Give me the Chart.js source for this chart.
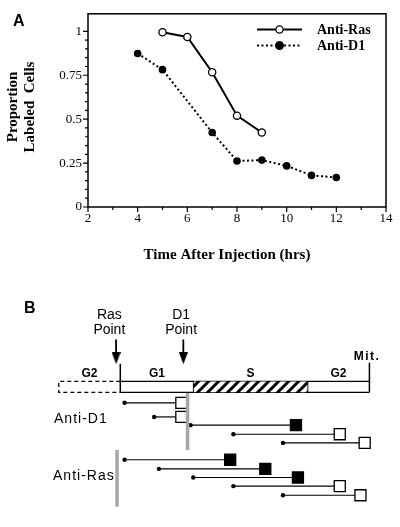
<!DOCTYPE html>
<html>
<head>
<meta charset="utf-8">
<script src="https://cdn.jsdelivr.net/npm/chart.js@4.4.0/dist/chart.umd.min.js"></script>
<style>
  body { margin: 0; background: #fff; }
  #wrap { position: relative; width: 400px; height: 527px; }
  #wrap canvas { position: absolute; left: 0; }
  #chartA { top: 0; }
  #chartB { top: 270px; }
</style>
</head>
<body>
<div id="wrap">
  <canvas id="chartA" width="400" height="270"></canvas>
  <canvas id="chartB" width="400" height="257"></canvas>
</div>
<script>
/* ------------------------------
 Panel A: proportion of labeled cells
---------------------------------*/
var rasHours = [5, 6, 7, 8, 9];
var rasProp = [0.995, 0.968, 0.767, 0.52, 0.424];
var d1Hours = [4, 5, 7, 8, 9, 10, 11, 12];
var d1Prop = [0.874, 0.782, 0.424, 0.262, 0.267, 0.234, 0.18, 0.168];
var seriesNames = ["Anti-Ras", "Anti-D1"];

/* ------------------------------
 Panel B: schematic (cycle units, Ras point = 0, mitosis = 10)
---------------------------------*/
var phaseNames = ["G2", "G1", "S", "G2"];
var phaseStart = [-2.47, 0, 2.94, 7.52];
var phaseEnd = [0, 2.94, 7.52, 10];
var pointNames = ["Ras", "D1"];
var pointPos = [-0.17, 2.53];
var d1Start = [0.17, 1.36, 2.82, 4.54, 6.53];
var d1End = [2.45, 2.45, 7.05, 8.81, 9.81];
var d1Row = [1.75, 3.3, 4.2, 5.2, 6.15];
var d1Filled = [false, false, true, false, false];
var d1Block = 2.70;
var rasStart = [0.17, 1.55, 2.93, 4.54, 6.53];
var rasEnd = [4.41, 5.82, 7.13, 8.81, 9.64];
var rasRow = [8, 9, 9.95, 10.9, 11.9];
var rasFilled = [true, true, true, false, false];
var rasBlock = -0.13;

var serif = "'Liberation Serif', 'Times New Roman', serif";
var sans = "'Liberation Sans', Arial, sans-serif";

function pts(xs, ys) {
  return xs.map(function (x, i) { return { x: x, y: ys[i] }; });
}

/*------------------------------------
* Panel A
------------------------------------ */
var panelA = {
  id: "panelA",
  afterDraw: function (chart) {
    var ctx = chart.ctx, a = chart.chartArea;
    var sx = chart.scales.x, sy = chart.scales.y;
    ctx.save();
    ctx.strokeStyle = "#000";
    ctx.lineWidth = 1.5;
    ctx.strokeRect(a.left, a.top, a.right - a.left, a.bottom - a.top);

    // major + minor tick marks
    ctx.lineWidth = 1.2;
    ctx.beginPath();
    for (var h = 2; h <= 14; h++) {
      var px = sx.getPixelForValue(h);
      ctx.moveTo(px, a.bottom);
      ctx.lineTo(px, a.bottom + (h % 2 ? 3 : 5));
    }
    for (var k = 0; k <= 20; k++) {
      var py = sy.getPixelForValue(k * 0.05);
      ctx.moveTo(a.left, py);
      ctx.lineTo(a.left - (k % 5 ? 3 : 5), py);
    }
    ctx.stroke();

    // legend inside plot
    var ds = chart.data.datasets;
    ds.forEach(function (d, i) {
      var y = 29.5 + i * 16;
      ctx.lineWidth = d.borderWidth;
      ctx.setLineDash(d.borderDash || []);
      ctx.beginPath();
      ctx.moveTo(257, y);
      ctx.lineTo(302, y);
      ctx.stroke();
      ctx.setLineDash([]);
      ctx.beginPath();
      ctx.arc(279.5, y, d.pointRadius, 0, Math.PI * 2);
      ctx.fillStyle = d.pointBackgroundColor;
      ctx.fill();
      ctx.lineWidth = 1.3;
      ctx.stroke();
      ctx.fillStyle = "#000";
      ctx.font = "bold 14px " + serif;
      ctx.textAlign = "left";
      ctx.textBaseline = "middle";
      ctx.fillText(d.label, 317, y + 1);
    });

    // axis titles
    ctx.fillStyle = "#000";
    ctx.font = "bold 15px " + serif;
    ctx.textAlign = "center";
    ctx.textBaseline = "middle";
    ctx.fillText("Time After Injection (hrs)", 227, 255);
    ctx.save();
    ctx.translate(13, 107);
    ctx.rotate(-Math.PI / 2);
    ctx.fillText("Proportion", 0, 0);
    ctx.fillText("Labeled  Cells", 0, 17);
    ctx.restore();

    // panel letter
    ctx.font = "bold 16px " + sans;
    ctx.textAlign = "left";
    ctx.fillText("A", 13, 22);
    ctx.restore();
  }
};

new Chart(document.getElementById("chartA"), {
  type: "scatter",
  data: {
    datasets: [
      {
        label: seriesNames[0],
        data: pts(rasHours, rasProp),
        showLine: true,
        borderColor: "#000",
        borderWidth: 2,
        pointRadius: 3.6,
        pointBorderWidth: 1.3,
        pointBackgroundColor: "#fff",
        pointBorderColor: "#000",
      },
      {
        label: seriesNames[1],
        data: pts(d1Hours, d1Prop),
        showLine: true,
        borderColor: "#000",
        borderWidth: 2,
        borderDash: [2, 2.5],
        pointRadius: 3.8,
        pointBorderWidth: 0,
        pointBackgroundColor: "#000",
        pointBorderColor: "#000",
      },
    ],
  },
  options: {
    responsive: false,
    animation: false,
    events: [],
    layout: { padding: { left: 0, top: 12, right: 14, bottom: 0 } },
    plugins: { legend: { display: false }, tooltip: { enabled: false } },
    scales: {
      x: {
        type: "linear",
        min: 2,
        max: 14,
        afterFit: function (s) { s.height = 63; },
        grid: { display: false, drawTicks: false },
        border: { display: false },
        ticks: { stepSize: 2, padding: 4, color: "#000", font: { family: serif, size: 13 } },
      },
      y: {
        min: 0,
        max: 1.1,
        afterFit: function (s) { s.width = 88; },
        grid: { display: false, drawTicks: false },
        border: { display: false },
        ticks: {
          stepSize: 0.25,
          includeBounds: false,
          padding: 6,
          color: "#000",
          font: { family: serif, size: 13 },
          callback: function (v) { return String(v); },
        },
      },
    },
  },
  plugins: [panelA],
});

/*------------------------------------
* Panel B
------------------------------------ */
var hatch = (function () {
  var c = document.createElement("canvas");
  c.width = 10; c.height = 10;
  var g = c.getContext("2d");
  g.fillStyle = "#fff";
  g.fillRect(0, 0, 10, 10);
  g.strokeStyle = "#000";
  g.lineWidth = 3;
  g.beginPath();
  g.moveTo(-2, 12); g.lineTo(12, -2);
  g.moveTo(-7, 7); g.lineTo(7, -7);
  g.moveTo(3, 17); g.lineTo(17, 3);
  g.stroke();
  return g.createPattern(c, "repeat");
})();

var arrowHead = (function () {
  var c = document.createElement("canvas");
  c.width = 9; c.height = 12;
  var g = c.getContext("2d");
  g.fillStyle = "#000";
  g.beginPath();
  g.moveTo(0, 0); g.lineTo(9, 0); g.lineTo(4.5, 12);
  g.closePath();
  g.fill();
  return c;
})();

function seg(x1, y1, x2, y2, opt) {
  return Object.assign({
    data: [{ x: x1, y: y1 }, { x: x2, y: y2 }],
    borderColor: "#000",
    borderWidth: 1.3,
    pointRadius: 0,
    fill: false,
  }, opt || {});
}

var boxTop = -0.6, boxBot = 0.6;
var dsB = [];

// dashed previous G2
dsB.push({
  data: [{ x: phaseEnd[0], y: boxTop }, { x: phaseStart[0], y: boxTop },
         { x: phaseStart[0], y: boxBot }, { x: phaseEnd[0], y: boxBot }],
  borderColor: "#000", borderWidth: 1.3, borderDash: [4, 3], pointRadius: 0, fill: false,
});
// hatched S phase
dsB.push(seg(phaseStart[2], boxTop, phaseEnd[2], boxTop, { borderWidth: 0 }));
dsB.push(seg(phaseStart[2], boxBot, phaseEnd[2], boxBot, { borderWidth: 0, fill: "-1", backgroundColor: hatch }));
// box outline
dsB.push(seg(phaseStart[1], boxTop, phaseEnd[3], boxTop));
dsB.push(seg(phaseStart[1], boxBot, phaseEnd[3], boxBot));
dsB.push(seg(phaseEnd[1], boxTop, phaseEnd[1], boxBot));
dsB.push(seg(phaseEnd[2], boxTop, phaseEnd[2], boxBot));
dsB.push(seg(phaseStart[1], -2.55, phaseStart[1], boxBot, { borderWidth: 1.5 }));
dsB.push(seg(phaseEnd[3], -2.65, phaseEnd[3], boxBot, { borderWidth: 1.5 }));
// checkpoint arrows
pointPos.forEach(function (p) {
  dsB.push(seg(p, -5.2, p, -3.15, {
    borderWidth: 1.8,
    pointStyle: ["circle", arrowHead],
    pointRadius: [0, 6],
  }));
});
// antibody block bars
dsB.push(seg(d1Block, 0.7, d1Block, 6.94, { borderColor: "#a6a6a6", borderWidth: 3.5 }));
dsB.push(seg(rasBlock, 6.94, rasBlock, 13.16, { borderColor: "#a6a6a6", borderWidth: 3.5 }));
// labeling intervals
function rows(st, en, rw, filled) {
  st.forEach(function (s, i) {
    dsB.push(seg(s, rw[i], en[i], rw[i], {
      borderWidth: 1.2,
      pointStyle: ["circle", "rect"],
      pointRadius: [2.2, 7.8],
      pointBorderWidth: [0, 1.3],
      pointBorderColor: "#000",
      pointBackgroundColor: ["#000", filled[i] ? "#000" : "#fff"],
    }));
  });
}
rows(d1Start, d1End, d1Row, d1Filled);
rows(rasStart, rasEnd, rasRow, rasFilled);

var pointLabelPos = [-0.44, 2.44];
var panelB = {
  id: "panelB",
  afterDraw: function (chart) {
    var ctx = chart.ctx, sx = chart.scales.x, sy = chart.scales.y;
    function X(u) { return sx.getPixelForValue(u); }
    function Y(v) { return sy.getPixelForValue(v); }
    ctx.save();
    ctx.fillStyle = "#000";
    ctx.textBaseline = "middle";

    ctx.font = "bold 16px " + sans;
    ctx.textAlign = "left";
    ctx.fillText("B", 24, 39);

    ctx.font = "14px " + sans;
    ctx.textAlign = "center";
    pointNames.forEach(function (n, i) {
      ctx.fillText(n, X(pointLabelPos[i]), Y(-7.86));
      ctx.fillText("Point", X(pointLabelPos[i]), Y(-6.22));
    });

    ctx.font = "bold 12px " + sans;
    phaseNames.forEach(function (n, i) {
      ctx.fillText(n, X((phaseStart[i] + phaseEnd[i]) / 2), Y(-1.43));
    });

    ctx.letterSpacing = "1.5px";
    ctx.textAlign = "right";
    ctx.fillText("Mit.", X(phaseEnd[3]) + 11, Y(-3.37));

    ctx.font = "14px " + sans;
    ctx.letterSpacing = "1px";
    ctx.textAlign = "left";
    ctx.fillText(seriesNames[1], X(-2.66), Y(3.57));
    ctx.fillText(seriesNames[0], X(-2.70), Y(9.8));
    ctx.restore();
  }
};

new Chart(document.getElementById("chartB"), {
  type: "line",
  data: { datasets: dsB },
  options: {
    responsive: false,
    animation: false,
    events: [],
    layout: { padding: 0 },
    plugins: { legend: { display: false }, tooltip: { enabled: false } },
    scales: {
      x: { type: "linear", display: false, min: -116.5 / 26.1, max: (400 - 116.5) / 26.1 },
      y: { type: "linear", display: false, reverse: true, min: -116 / 9.8, max: (257 - 116) / 9.8 },
    },
  },
  plugins: [panelB],
});
</script>
</body>
</html>
